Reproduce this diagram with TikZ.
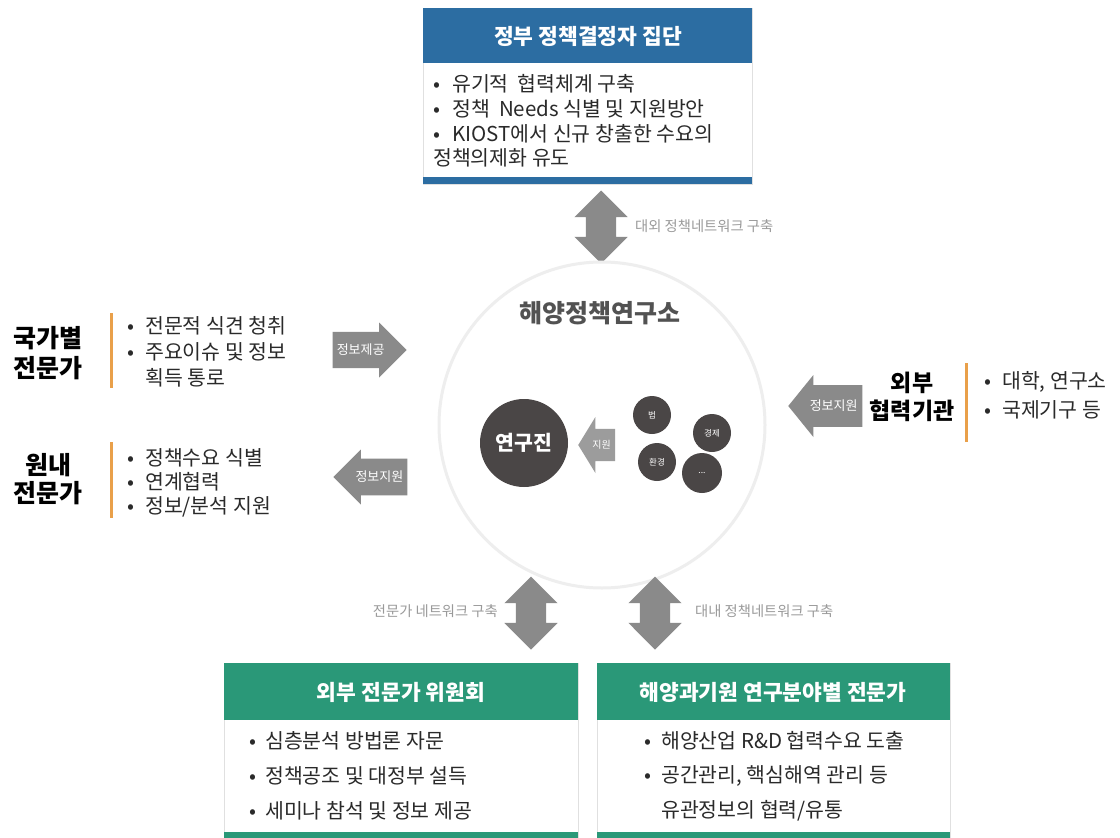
\documentclass[tikz,border=0pt]{standalone}
\usepackage{fontspec}
\setmainfont{Noto Sans CJK KR}
\usetikzlibrary{shapes.arrows}
\definecolor{hdrblue}{HTML}{2C6DA2}
\definecolor{hdrgreen}{HTML}{2A9878}
\definecolor{arrgray}{HTML}{8A8A8A}
\definecolor{arrlight}{HTML}{9C9C9C}
\definecolor{darkc}{HTML}{4A4646}
\definecolor{orangeln}{HTML}{E9A04A}
\definecolor{txt}{HTML}{2A2A2A}
\definecolor{lbl}{HTML}{9A9A9A}
\definecolor{ringc}{HTML}{EEEEEE}
\newcommand{\bl}[1]{\makebox[#1][l]{•}}
\begin{document}
\begin{tikzpicture}[x=1pt,y=-1pt,
  bul/.style={anchor=west, inner sep=0, font=\fontsize{20.5}{21}\selectfont, text=txt},
  hdr/.style={text=white, inner sep=0, font=\bfseries\fontsize{21.5}{22}\selectfont},
  grp/.style={align=center, inner sep=0, text=black},
  net/.style={inner sep=0, font=\fontsize{14.3}{15}\selectfont, text=lbl},
  orangebar/.style={draw=orangeln, line width=3pt},
  blkarrow/.style={single arrow, fill=arrgray, text=white, inner xsep=3pt,
    font=\fontsize{13}{13}\selectfont},
  dblarrow/.style={double arrow, fill=arrgray, double arrow tip angle=90,
    shape border rotate=90, minimum height=73pt, minimum width=53pt,
    double arrow head extend=11.5pt, inner sep=15pt},
  smallc/.style={circle, fill=darkc, text=white, minimum size=38pt, inner sep=0,
    font=\fontsize{8.5}{9}\selectfont},
  boxframe/.style={draw=black!12, line width=0.8pt, anchor=north west, inner sep=0}
]
\useasboundingbox (0,0) rectangle (1120,838);
\fill[white] (0,0) rectangle (1120,838);

% ---------- top box ----------
\node[boxframe, minimum width=329pt, minimum height=176pt] (gov) at (423,8) {};
\fill[hdrblue] (423,8) rectangle (752,63);
\fill[hdrblue] (423,177) rectangle (752,184);
\node[hdr] (govt) at (588,36) {정부 정책결정자 집단};
\node[bul] (g1) at (433,84) {\bl{19pt}유기적 \ 협력체계 구축};
\node[bul] (g2) at (433,109) {\bl{19pt}정책 \ Needs 식별 및 지원방안};
\node[bul] (g3) at (433,134) {\bl{19pt}KIOST에서 신규 창출한 수요의};
\node[bul] (g4) at (433,158) {정책의제화 유도};

% top double arrow
\node[dblarrow] (ta) at (601,227) {};
\node[net, anchor=west] (tal) at (635,226) {대외 정책네트워크 구축};

% ---------- centre ----------
\node[circle, draw=ringc, line width=3pt, fill=white, minimum size=326pt] (kmi) at (602,425) {};
\node[inner sep=0, text=black!68, font=\bfseries\fontsize{25}{26}\selectfont] (kmit) at (600,313) {해양정책연구소};
\node[circle, fill=darkc, text=white, minimum size=88pt, inner sep=0,
  font=\bfseries\fontsize{20.5}{21}\selectfont] (res) at (524,443) {연구진};
\node[single arrow, fill=arrlight, text=white, shape border rotate=180,
  single arrow tip angle=117, minimum height=37pt, minimum width=56pt,
  inner xsep=1pt, inner ysep=5pt, font=\fontsize{10}{10}\selectfont,
  anchor=tip] (sup) at (578,445) {지원};
\node[smallc] (c1) at (652,415) {법};
\node[smallc] (c2) at (712,433) {경제};
\node[smallc] (c3) at (657,462) {환경};
\node[smallc, minimum size=40pt] (c4) at (702,473) {...};

% ---------- left groups ----------
\node[grp, font=\bfseries\fontsize{25}{30}\selectfont] (nat) at (48,353) {국가별\\전문가};
\draw[orangebar] (111,313) -- (111,388);
\node[bul] (n1) at (127,326) {\bl{18pt}전문적 식견 청취};
\node[bul] (n2) at (127,352) {\bl{18pt}주요이슈 및 정보};
\node[bul] (n3) at (145,378) {획득 통로};

\node[grp, font=\bfseries\fontsize{25}{28}\selectfont] (inh) at (48,479) {원내\\전문가};
\draw[orangebar] (111,442) -- (111,518);
\node[bul] (h1) at (127,458) {\bl{18pt}정책수요 식별};
\node[bul] (h2) at (127,482) {\bl{18pt}연계협력};
\node[bul] (h3) at (127,507) {\bl{18pt}정보/분석 지원};

\node[blkarrow, single arrow tip angle=90, minimum height=74pt, minimum width=55pt,
  inner ysep=7.5pt, anchor=tip] (a1) at (407,350) {정보제공};
\node[blkarrow, shape border rotate=180, single arrow tip angle=90, minimum height=74pt,
  minimum width=55pt, inner ysep=8pt, anchor=tip] (a2) at (333,477) {정보지원};

% ---------- right group ----------
\node[blkarrow, shape border rotate=180, single arrow tip angle=102, minimum height=74pt,
  minimum width=62pt, inner ysep=8.5pt, anchor=tip] (a3) at (788,406) {정보지원};
\node[grp, font=\bfseries\fontsize{23}{28}\selectfont] (ext) at (912,397) {외부\\협력기관};
\draw[orangebar] (966,363) -- (966,442);
\node[bul] (e1) at (984,382) {\bl{18pt}대학, 연구소};
\node[bul] (e2) at (984,410) {\bl{18pt}국제기구 등};

% ---------- bottom arrows ----------
\node[dblarrow] (ba1) at (531,613) {};
\node[net, anchor=east] (ba1l) at (498,611) {전문가 네트워크 구축};
\node[dblarrow] (ba2) at (655,613) {};
\node[net, anchor=west] (ba2l) at (695,611) {대내 정책네트워크 구축};

% ---------- bottom boxes ----------
\node[boxframe, minimum width=354pt, minimum height=180pt] (com) at (224,663) {};
\fill[hdrgreen] (224,663) rectangle (578,720);
\fill[hdrgreen] (224,832) rectangle (578,840);
\node[hdr] (comt) at (401,692) {외부 전문가 위원회};
\node[bul] (m1) at (249,741) {\bl{16pt}심층분석 방법론 자문};
\node[bul] (m2) at (249,776) {\bl{16pt}정책공조 및 대정부 설득};
\node[bul] (m3) at (249,811) {\bl{16pt}세미나 참석 및 정보 제공};

\node[boxframe, minimum width=353pt, minimum height=180pt] (kio) at (597,663) {};
\fill[hdrgreen] (597,663) rectangle (950,720);
\fill[hdrgreen] (597,832) rectangle (950,840);
\node[hdr] (kiot) at (773,692) {해양과기원 연구분야별 전문가};
\node[bul] (k1) at (644,741) {\bl{17pt}해양산업 R\&D 협력수요 도출};
\node[bul] (k2) at (644,776) {\bl{17pt}공간관리, 핵심해역 관리 등};
\node[bul] (k3) at (661,811) {유관정보의 협력/유통};
\end{tikzpicture}
\end{document}
